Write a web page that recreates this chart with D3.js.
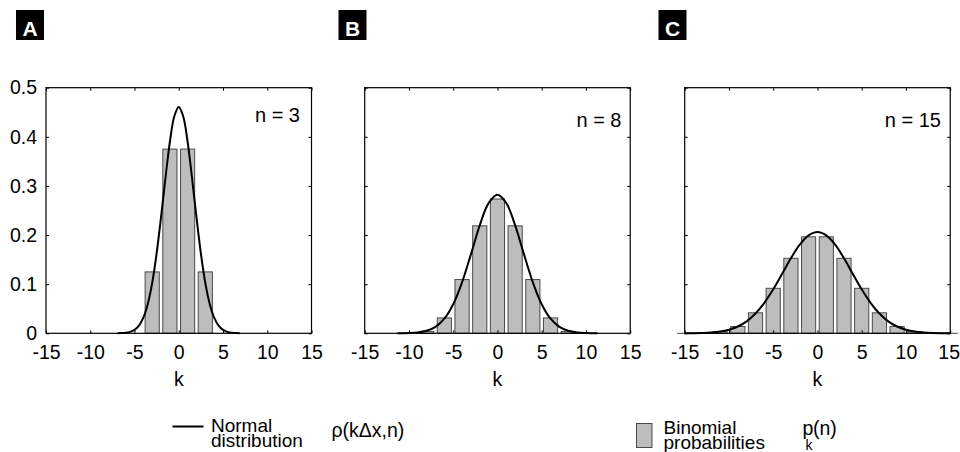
<!DOCTYPE html>
<html>
<head>
<meta charset="utf-8">
<script src="https://cdn.jsdelivr.net/npm/d3@7"></script>
<style>
  body { margin: 0; background: #fff; }
  svg { font-family: "Liberation Sans", Arial, sans-serif; }
</style>
</head>
<body>
<svg width="960" height="452"></svg>
<script>
const kTicks = [-15, -10, -5, 0, 5, 10, 15];
const yTicks = [0, 0.1, 0.2, 0.3, 0.4, 0.5];
const panelLabels = ["A", "B", "C"];
const nValues = [3, 8, 15];

// binomial probabilities p_k(n)
const kA = [-3, -1, 1, 3];
const probsA = [0.125, 0.375, 0.375, 0.125];
const kB = [-8, -6, -4, -2, 0, 2, 4, 6, 8];
const probsB = [0.0039, 0.0313, 0.1094, 0.2188, 0.2734, 0.2188, 0.1094, 0.0313, 0.0039];
const kC = [-15, -13, -11, -9, -7, -5, -3, -1, 1, 3, 5, 7, 9, 11, 13, 15];
const probsC = [0.00003, 0.0005, 0.0032, 0.0139, 0.0417, 0.0916, 0.1527, 0.1964,
                0.1964, 0.1527, 0.0916, 0.0417, 0.0139, 0.0032, 0.0005, 0.00003];

// normal curve rho(k dx, n)
const curveKA = [-6.9, -6.5, -6, -5.5, -5, -4.5, -4, -3.5, -3, -2.5, -2, -1.5, -1, -0.5, 0,
                 0.5, 1, 1.5, 2, 2.5, 3, 3.5, 4, 4.5, 5, 5.5, 6, 6.5, 6.9];
const curveA = [0.0002, 0.0004, 0.0011, 0.0030, 0.0071, 0.0158, 0.0320, 0.0598, 0.1028, 0.1625,
                0.2365, 0.3166, 0.3900, 0.4419, 0.4607, 0.4419, 0.3900, 0.3166, 0.2365, 0.1625,
                0.1028, 0.0598, 0.0320, 0.0158, 0.0071, 0.0030, 0.0011, 0.0004, 0.0002];
const curveKB = [-11.3, -10, -9, -8, -7, -6, -5, -4, -3, -2, -1, 0,
                 1, 2, 3, 4, 5, 6, 7, 8, 9, 10, 11.3];
const curveB = [0.0001, 0.0005, 0.0018, 0.0052, 0.0132, 0.0297, 0.0591, 0.1038, 0.1607, 0.2197, 0.2650, 0.2821,
                0.2650, 0.2197, 0.1607, 0.1038, 0.0591, 0.0297, 0.0132, 0.0052, 0.0018, 0.0005, 0.0001];
const curveKC = [-15, -14, -13, -12, -11, -10, -9, -8, -7, -6, -5, -4, -3, -2, -1, 0,
                 1, 2, 3, 4, 5, 6, 7, 8, 9, 10, 11, 12, 13, 14, 15];
const curveC = [0.0001, 0.0003, 0.0007, 0.0017, 0.0036, 0.0074, 0.0138, 0.0244, 0.0402, 0.0620,
                0.0895, 0.1208, 0.1526, 0.1803, 0.1992, 0.2060, 0.1992, 0.1803, 0.1526, 0.1208,
                0.0895, 0.0620, 0.0402, 0.0244, 0.0138, 0.0074, 0.0036, 0.0017, 0.0007, 0.0003, 0.0001];

const panels = [
  { k: kA, p: probsA, ck: curveKA, c: curveA, left: 46, nY: 122, nX: 300, boxX: 16 },
  { k: kB, p: probsB, ck: curveKB, c: curveB, left: 364.7, nY: 127, nX: 621.5, boxX: 338.5 },
  { k: kC, p: probsC, ck: curveKC, c: curveC, left: 684.7, nY: 127, nX: 941, boxX: 658.5 }
];

const svg = d3.select("svg");
const plotW = 265.5;
const yTop = 87.7, yBottom = 333.3;
const barWidth = 1.6;
const barFill = "#bdbdbd";
const barStroke = "#4a4a4a";
const tickFont = 19.5;

const y = d3.scaleLinear().domain([0, 0.5]).range([yBottom, yTop]);

panels.forEach((pan, i) => {
  const x = d3.scaleLinear().domain([-15, 15]).range([pan.left, pan.left + plotW]);
  const g = svg.append("g");

  // panel letter
  g.append("rect")
    .attr("x", pan.boxX).attr("y", 10)
    .attr("width", 28).attr("height", 30)
    .attr("fill", "#000");
  g.append("text")
    .attr("x", pan.boxX + 14).attr("y", 35.5)
    .attr("text-anchor", "middle")
    .attr("fill", "#fff")
    .attr("font-weight", "bold")
    .attr("font-size", 21)
    .text(panelLabels[i]);

  // bars
  g.selectAll("rect.bar")
    .data(pan.k.map((k, j) => ({ k, p: pan.p[j] })))
    .join("rect")
    .attr("class", "bar")
    .attr("x", d => x(d.k - barWidth / 2))
    .attr("width", d => x(d.k + barWidth / 2) - x(d.k - barWidth / 2))
    .attr("y", d => y(d.p))
    .attr("height", d => yBottom - y(d.p))
    .attr("fill", barFill)
    .attr("stroke", barStroke)
    .attr("stroke-width", 1);

  // normal curve
  const line = d3.line()
    .x(d => x(d[0]))
    .y(d => y(d[1]))
    .curve(d3.curveCatmullRom);
  g.append("path")
    .datum(pan.ck.map((k, j) => [k, pan.c[j]]))
    .attr("d", line)
    .attr("fill", "none")
    .attr("stroke", "#000")
    .attr("stroke-width", 2);

  // axes: ticks inward on all four sides
  const xb = g.append("g").attr("transform", `translate(0,${yBottom})`)
    .call(d3.axisBottom(x).tickValues(kTicks).tickSizeInner(-3).tickSizeOuter(0).tickPadding(12)
      .tickFormat(d => String(d)));
  const xt = g.append("g").attr("transform", `translate(0,${yTop})`)
    .call(d3.axisTop(x).tickValues(kTicks).tickSizeInner(-3).tickSizeOuter(0).tickFormat(""));
  const yl = g.append("g").attr("transform", `translate(${pan.left},0)`)
    .call(d3.axisLeft(y).tickValues(yTicks).tickSizeInner(-3).tickSizeOuter(0).tickPadding(9)
      .tickFormat(i === 0 ? d => String(d) : ""));
  const yr = g.append("g").attr("transform", `translate(${pan.left + plotW},0)`)
    .call(d3.axisRight(y).tickValues(yTicks).tickSizeInner(-3).tickSizeOuter(0).tickFormat(""));

  [xb, xt, yl, yr].forEach(a => {
    a.select(".domain").remove();
    a.selectAll("line").attr("stroke", "#000");
    a.selectAll("text")
      .attr("font-size", tickFont)
      .attr("font-family", "Liberation Sans, Arial, sans-serif")
      .attr("fill", "#000");
  });
  // keep the last label of the right panel inside the page
  if (i === 2) xb.selectAll("text").filter(d => d === 15).attr("dx", -1.5);

  g.append("rect")
    .attr("x", pan.left).attr("y", yTop)
    .attr("width", plotW).attr("height", yBottom - yTop)
    .attr("fill", "none")
    .attr("stroke", "#000")
    .attr("stroke-width", 1.2);

  g.append("text")
    .attr("x", x(0)).attr("y", 386)
    .attr("text-anchor", "middle")
    .attr("font-size", tickFont)
    .text("k");

  g.append("text")
    .attr("x", pan.nX).attr("y", pan.nY)
    .attr("text-anchor", "end")
    .attr("font-size", 20)
    .text(`n = ${nValues[i]}`);
});

// legend
const leg = svg.append("g").attr("font-size", 19);
leg.append("line")
  .attr("x1", 172.5).attr("x2", 203.5)
  .attr("y1", 426.5).attr("y2", 426.5)
  .attr("stroke", "#000").attr("stroke-width", 2);
leg.append("text").attr("x", 211).attr("y", 431.5).text("Normal");
leg.append("text").attr("x", 211).attr("y", 447).text("distribution");
leg.append("text").attr("x", 331.5).attr("y", 436.5).attr("font-size", 19.5).text("ρ(kΔx,n)");

leg.append("rect")
  .attr("x", 636.5).attr("y", 423.5)
  .attr("width", 15.5).attr("height", 24)
  .attr("fill", barFill).attr("stroke", barStroke).attr("stroke-width", 1);
leg.append("text").attr("x", 663.5).attr("y", 434).text("Binomial");
leg.append("text").attr("x", 663.5).attr("y", 448.5).text("probabilities");
leg.append("text").attr("x", 802.5).attr("y", 435).attr("font-size", 19.5).text("p");
leg.append("text").attr("x", 805.5).attr("y", 450).attr("font-size", 14).text("k");
leg.append("text").attr("x", 813).attr("y", 435).attr("font-size", 19.5).text("(n)");
</script>
</body>
</html>
